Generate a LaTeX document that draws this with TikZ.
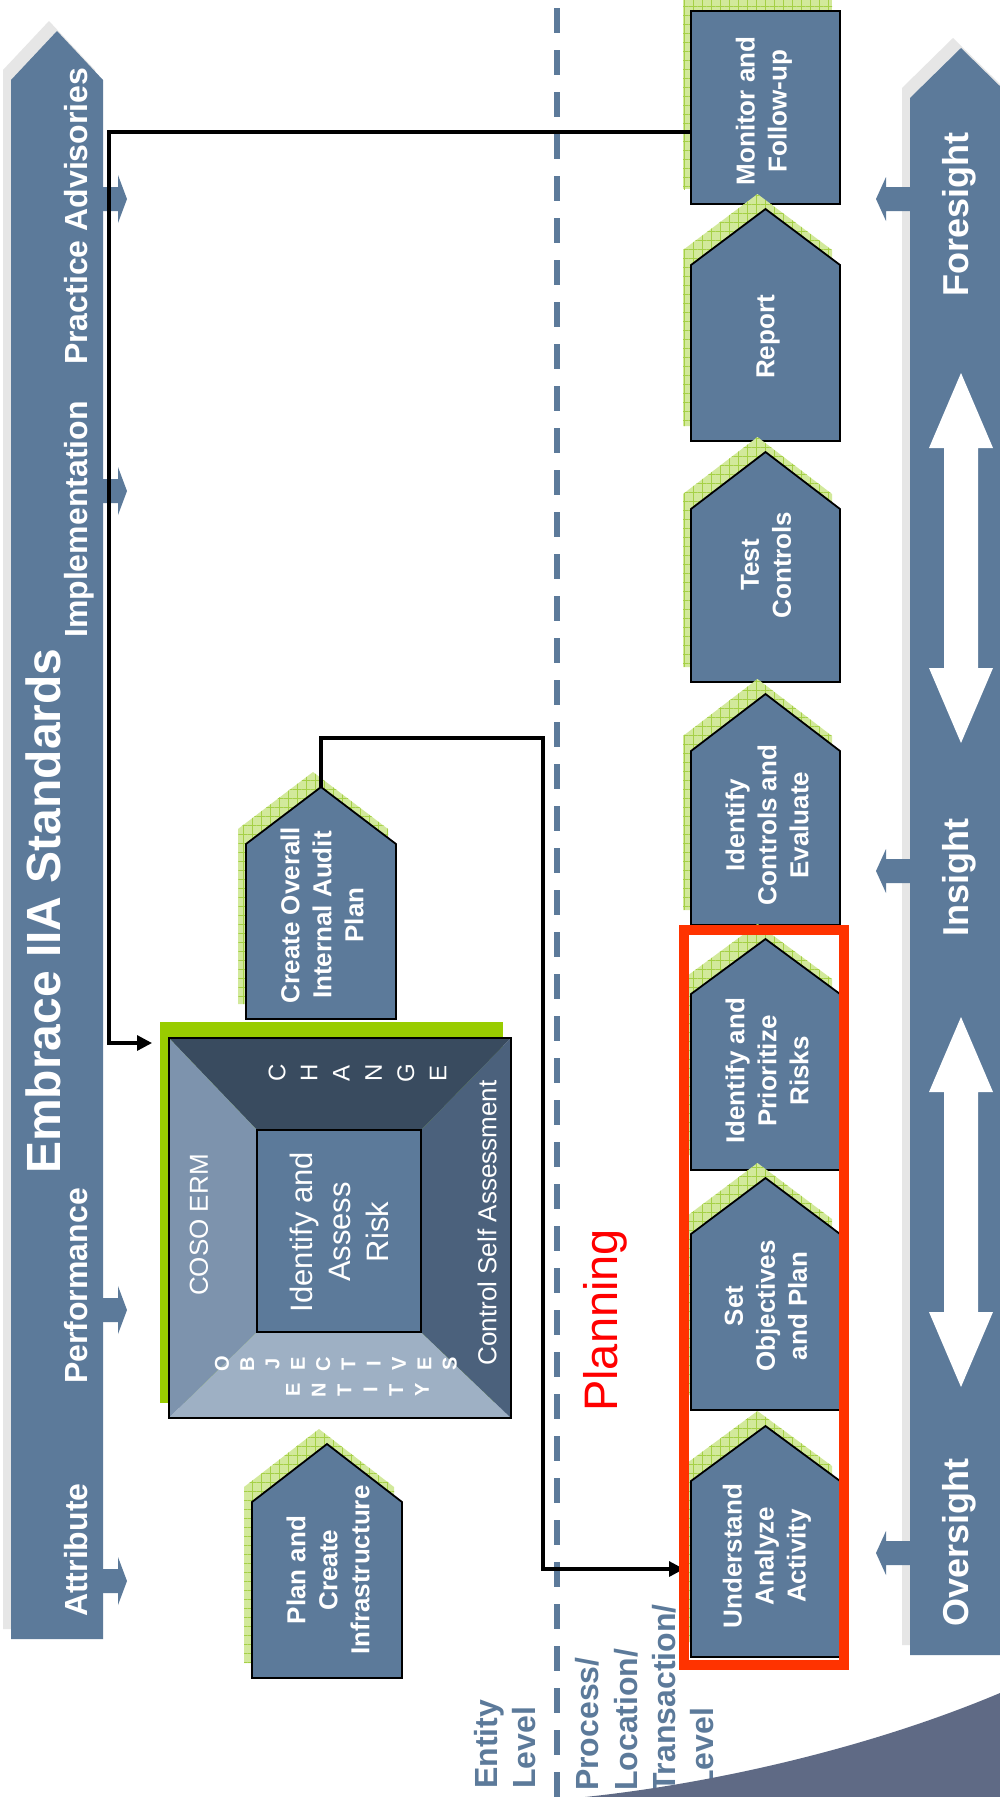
\documentclass[tikz,border=0pt]{standalone}
\usepackage{fontspec}
\setmainfont{Liberation Sans}
\usetikzlibrary{arrows.meta,patterns.meta,calc}
\definecolor{bblue}{RGB}{92,122,154}
\definecolor{shgray}{RGB}{230,230,230}
\definecolor{lgreen}{RGB}{210,233,155}
\definecolor{ggrid}{RGB}{165,208,70}
\definecolor{cgreen}{RGB}{153,204,0}
\definecolor{ctop}{RGB}{57,75,95}
\definecolor{cleft}{RGB}{125,147,173}
\definecolor{cbot}{RGB}{158,176,196}
\definecolor{cright}{RGB}{75,97,124}
\definecolor{redbox}{RGB}{255,51,0}
\definecolor{swoosh}{RGB}{95,106,133}
\tikzset{
 boxshape/.style={fill=bblue, draw=black, line width=1.8pt, line join=miter},
 boxtext/.style={rotate=90, text=white, align=center, font=\fontsize{26}{32}\selectfont\bfseries, inner sep=0pt},
 barlabel/.style={rotate=90, text=white, font=\fontsize{32}{38}\selectfont\bfseries, anchor=base west, inner sep=0pt},
 rlabel/.style={rotate=90, text=white, font=\fontsize{36}{40}\selectfont\bfseries, anchor=base west, inner sep=0pt},
 lvl/.style={rotate=90, text=bblue, font=\fontsize{32}{38}\selectfont\bfseries, anchor=base west, inner sep=0pt},
 cubetext/.style={rotate=90, text=white, font=\fontsize{26}{32}\selectfont, inner sep=0pt},
 chletter/.style={rotate=90, text=white, font=\fontsize{24}{28}\selectfont, inner sep=0pt},
 objletter/.style={rotate=90, text=white, font=\fontsize{20}{24}\selectfont\bfseries, inner sep=0pt},
 conn/.style={draw=black, line width=3.2pt, line join=miter, -{Triangle[length=15pt,width=15pt]}},
}
\newcommand\mypent[5]{%
  \fill[lgreen] (#1-8,#5-15) -- (#1-8,#4-15) -- ({(#1+#2)/2-8},#3-15) -- (#2-8,#4-15) -- (#2-8,#5-15) -- cycle;
  \fill[pattern={Hatch[distance=9pt,line width=0.7pt]}, pattern color=ggrid] (#1-8,#5-15) -- (#1-8,#4-15) -- ({(#1+#2)/2-8},#3-15) -- (#2-8,#4-15) -- (#2-8,#5-15) -- cycle;
  \draw[boxshape] (#1,#5) -- (#1,#4) -- ({(#1+#2)/2},#3) -- (#2,#4) -- (#2,#5) -- cycle;
}
\begin{document}
\begin{tikzpicture}[x=1pt,y=-1pt]
\useasboundingbox (0,0) rectangle (1000,1797);
\clip (0,0) rectangle (1000,1797);
\fill[white] (0,0) rectangle (1000,1797);

% left bar
\fill[shgray] (3,1629) -- (3,70) -- (49,21) -- (95,70) -- (95,1629) -- cycle;
\fill[bblue] (11,1639) -- (11,80) -- (57,31) -- (103,80) -- (103,1639) -- cycle;
\foreach \yy in {199,491,1310,1581}
  \fill[bblue] (100,\yy-12) -- (118,\yy-12) -- (118,\yy-24) -- (127,\yy) -- (118,\yy+24) -- (118,\yy+12) -- (100,\yy+12) -- cycle;
\node[barlabel] (pa) at (87,365) {Practice Advisories};
\node[barlabel] (impl) at (87,638) {Implementation};
\node[barlabel] (perf) at (87,1384) {Performance};
\node[barlabel] (attr) at (87,1617) {Attribute};
\node[barlabel, font=\fontsize{48}{54}\selectfont\bfseries] (embrace) at (60,1174) {Embrace IIA Standards};

% right bar
\fill[shgray] (902,1645) -- (902,88) -- (953,38) -- (1004,88) -- (1004,1645) -- cycle;
\fill[bblue] (910,1655) -- (910,98) -- (961,48) -- (1012,98) -- (1012,1655) -- cycle;
\foreach \yy in {199,871,1553}
  \fill[bblue] (913,\yy-12) -- (886,\yy-12) -- (886,\yy-22) -- (876,\yy) -- (886,\yy+22) -- (886,\yy+12) -- (913,\yy+12) -- cycle;
\fill[white] (961,373) -- (993,448) -- (978,448) -- (978,668) -- (993,668) -- (961,743) -- (929,668) -- (944,668) -- (944,448) -- (929,448) -- cycle;
\fill[white] (961,1017) -- (993,1092) -- (978,1092) -- (978,1312) -- (993,1312) -- (961,1387) -- (929,1312) -- (944,1312) -- (944,1092) -- (929,1092) -- cycle;
\node[rlabel] (fore) at (968,297) {Foresight};
\node[rlabel] (ins) at (968,937) {Insight};
\node[rlabel] (over) at (968,1627) {Oversight};

% dashed divider
\draw[bblue, line width=6pt, dash pattern=on 25pt off 17pt] (557,8) -- (557,1797);

% COSO cube
\fill[cgreen] (160,1022) rectangle (503,1403);
\fill[ctop] (169,1038) -- (511,1038) -- (421,1130) -- (257,1130) -- cycle;
\fill[cleft] (169,1038) -- (257,1130) -- (257,1332) -- (169,1418) -- cycle;
\fill[cbot] (169,1418) -- (257,1332) -- (421,1332) -- (511,1418) -- cycle;
\fill[cright] (511,1038) -- (421,1130) -- (421,1332) -- (511,1418) -- cycle;
\draw[boxshape] (257,1130) rectangle (421,1332);
\draw[black, line width=1.8pt] (169,1038) rectangle (511,1418);
\coordinate (coso-w) at (152,1043);
\node[cubetext] (coso) at (199,1225) {COSO ERM};
\node[cubetext, align=center, font=\fontsize{31}{38}\selectfont] (iar) at (339,1232) {Identify and\\Assess\\Risk};
\node[cubetext] (csa) at (487,1223) {Control Self Assessment};
\foreach \l [count=\i] in {C,H,A,N,G,E}
  \node[chletter] (ch\i) at ({277+32.2*(\i-1)},1073) {\l};
\foreach \l [count=\i] in {O,B,J,E,C,T,I,V,E,S}
  \node[objletter] (ob\i) at ({222+25.3*(\i-1)},1364) {\l};
\foreach \l [count=\i] in {E,N,T,I,T,Y}
  \node[objletter] (en\i) at ({293+25.8*(\i-1)},1390) {\l};

% left column boxes
\mypent{246}{396}{787}{844}{1019}
\coordinate (create-tip) at (321,787);
\node[boxtext] (create) at (322,915) {Create Overall\\Internal Audit\\Plan};
\mypent{252}{402}{1444}{1502}{1678}
\node[boxtext] (plan) at (328,1570) {Plan and\\Create\\Infrastructure};

% right column boxes
\fill[lgreen] (683,-4) rectangle (832,189);
\fill[pattern={Hatch[distance=9pt,line width=0.7pt]}, pattern color=ggrid] (683,-4) rectangle (832,189);
\draw[boxshape] (691,11) rectangle (840,204);
\coordinate (monitor-w) at (691,132);
\node[boxtext] (monitor) at (764,111) {Monitor and\\Follow-up};
\mypent{691}{840}{209}{265}{441}
\node[boxtext] (report) at (768,337) {Report};
\mypent{691}{840}{452}{509}{682}
\node[boxtext] (test) at (766,565) {Test\\Controls};
\mypent{691}{840}{694}{751}{925}
\node[boxtext] (idctl) at (767,825) {Identify\\Controls and\\Evaluate};
\mypent{691}{840}{939}{994}{1170}
\node[boxtext] (idrisk) at (767,1071) {Identify and\\Prioritize\\Risks};
\mypent{691}{840}{1178}{1234}{1410}
\node[boxtext] (setobj) at (766,1306) {Set\\Objectives\\and Plan};
\mypent{691}{840}{1426}{1481}{1657}
\node[boxtext] (underst) at (767,1556) {Understand\\Analyze\\Activity};
\coordinate (underst-w) at (684,1569);

% connectors
\draw[conn] (monitor-w) -- ++(-582,0) |- (coso-w);
\draw[conn] (create-tip) -- ++(0,-49) -- ++(222,0) |- (underst-w);

% red highlight
\draw[redbox, line width=10pt, line join=miter] (684,930) rectangle (844,1665);

% planning
\node[rotate=90, text=red, font=\fontsize{47}{52}\selectfont, anchor=base west, inner sep=0pt] (planning) at (617,1412) {Planning};

% level labels
\node[lvl] (ent1) at (497,1789) {Entity};
\node[lvl] (ent2) at (535,1789) {Level};
\node[lvl] (pr1) at (598,1791) {Process/};
\node[lvl] (pr2) at (637,1791) {Location/};
\node[lvl] (pr3) at (675,1793) {Transaction/};
\node[lvl] (pr4) at (713,1790) {Level};

% swoosh
\fill[swoosh] (585,1797) .. controls (700,1785) and (860,1752) .. (1000,1693) -- (1000,1797) -- cycle;
\end{tikzpicture}
\end{document}
